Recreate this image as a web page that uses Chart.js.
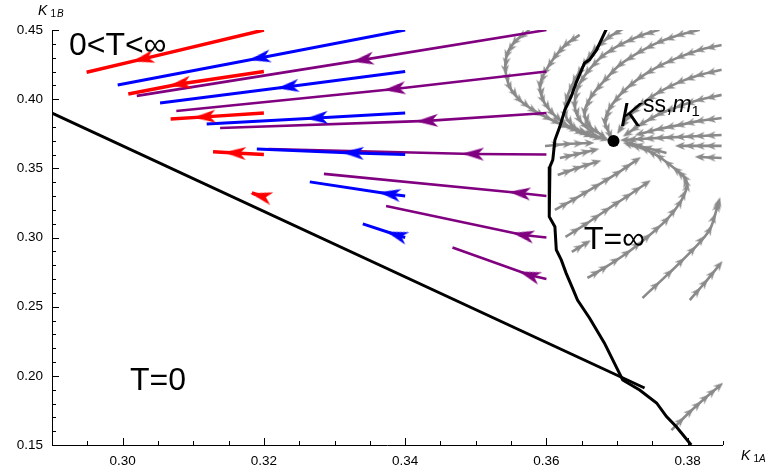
<!DOCTYPE html>
<html><head><meta charset="utf-8">
<script src="https://cdn.jsdelivr.net/npm/chart.js@4.4.1/dist/chart.umd.min.js"></script>
<style>html,body{margin:0;padding:0;background:#fff}canvas{display:block}</style>
</head><body>
<canvas id="c" width="768" height="475"></canvas>
<script>
// ---------- axis ticks ----------
const xTickLabels = [0.30, 0.32, 0.34, 0.36, 0.38];
const xMinorTicks = [0.295, 0.305, 0.31, 0.315, 0.325, 0.33, 0.335, 0.345, 0.35, 0.355, 0.365, 0.37, 0.375, 0.385];
const yTickLabels = [0.15, 0.20, 0.25, 0.30, 0.35, 0.40, 0.45];
const yMinorTicks = [0.16,0.17,0.18,0.19,0.21,0.22,0.23,0.24,0.26,0.27,0.28,0.29,0.31,0.32,0.33,0.34,0.36,0.37,0.38,0.39,0.41,0.42,0.43,0.44];

// ---------- trajectories [start, arrow, end] ----------
const redTraj = [
  [[0.32,0.45],[0.3029,0.4291],[0.2949,0.4195]],
  [[0.32,0.42],[0.3081,0.4110],[0.3008,0.4038]],
  [[0.32,0.39],[0.3116,0.3872],[0.3068,0.3857]],
  [[0.32,0.36],[0.3159,0.3611],[0.3128,0.3619]],
  [[0.32,0.33],[0.3196,0.3300],[0.3183,0.3322]]
];
const blueTraj = [
  [[0.34,0.45],[0.3194,0.4298],[0.2993,0.4103]],
  [[0.34,0.42],[0.3234,0.4089],[0.3053,0.3973]],
  [[0.34,0.39],[0.3275,0.3864],[0.3119,0.3821]],
  [[0.34,0.36],[0.3326,0.3611],[0.3190,0.3640]],
  [[0.34,0.33],[0.3378,0.3315],[0.3265,0.3402]],
  [[0.34,0.30],[0.3388,0.3018],[0.3340,0.3098]]
];
const purpleTraj = [
  [[0.36,0.45],[0.3340,0.4284],[0.3020,0.4024]],
  [[0.36,0.42],[0.3385,0.4074],[0.3076,0.3915]],
  [[0.36,0.39],[0.3431,0.3843],[0.3138,0.3792]],
  [[0.36,0.36],[0.3496,0.3604],[0.3206,0.3640]],
  [[0.36,0.33],[0.3562,0.3322],[0.3285,0.3460]],
  [[0.36,0.30],[0.3567,0.3018],[0.3373,0.3228]],
  [[0.36,0.27],[0.3576,0.2729],[0.3467,0.2927]]
];

// ---------- boundaries ----------
const zeroBoundary = [[0.29,0.39],[0.3739,0.1912]];
const infBoundary = [
  [0.3685,0.4508],[0.3671,0.4356],[0.3661,0.4284],[0.3654,0.4262],[0.3642,0.4118],[0.3635,0.4018],
  [0.3626,0.3922],[0.3619,0.3802],[0.3612,0.3705],[0.3609,0.3561],[0.3605,0.3512],[0.3604,0.3151],
  [0.3612,0.3078],[0.3614,0.2910],[0.3621,0.2838],[0.3628,0.2741],[0.3638,0.2621],[0.3644,0.2548],
  [0.3661,0.2418],[0.3682,0.2238],[0.3708,0.1970],[0.3732,0.1898],[0.3756,0.1804],[0.3770,0.1705],
  [0.3784,0.1632],[0.3805,0.1500]
];
const steadyState = [[0.3695,0.3698]];

// ---------- stream lines ----------
const streams = [
  [[0.3576,0.4501],[0.3555,0.4414],[0.3544,0.4320],[0.3542,0.4212],[0.3548,0.4089],[0.3562,0.3995],[0.3581,0.3922],[0.3602,0.3864],[0.3626,0.3807],[0.3654,0.3756],[0.3683,0.3712]],
  [[0.3647,0.4465],[0.3627,0.4392],[0.3612,0.4306],[0.3598,0.4197],[0.3591,0.4103],[0.3595,0.3995],[0.3608,0.3901],[0.3626,0.3821],[0.3647,0.3763],[0.3673,0.3720]],
  [[0.3711,0.4515],[0.3687,0.4443],[0.3668,0.4356],[0.3654,0.4255],[0.3640,0.4139],[0.3629,0.4009],[0.3627,0.3886],[0.3640,0.3792],[0.3661,0.3741]],
  [[0.3760,0.4501],[0.3732,0.4457],[0.3704,0.4392],[0.3678,0.4306],[0.3658,0.4197],[0.3644,0.4081],[0.3640,0.3958],[0.3647,0.3850],[0.3664,0.3763]],
  [[0.3817,0.4501],[0.3789,0.4465],[0.3760,0.4414],[0.3732,0.4342],[0.3704,0.4248],[0.3683,0.4139],[0.3664,0.4024],[0.3654,0.3908],[0.3661,0.3807],[0.3680,0.3734]],
  [[0.3848,0.4392],[0.3817,0.4356],[0.3789,0.4306],[0.3760,0.4240],[0.3732,0.4154],[0.3708,0.4052],[0.3690,0.3937],[0.3683,0.3836],[0.3690,0.3741]],
  [[0.3848,0.4212],[0.3817,0.4175],[0.3789,0.4125],[0.3760,0.4052],[0.3735,0.3966],[0.3715,0.3864],[0.3704,0.3778]],
  [[0.3848,0.4031],[0.3817,0.3995],[0.3789,0.3951],[0.3760,0.3893],[0.3735,0.3821],[0.3714,0.3749]],
  [[0.3848,0.3864],[0.3817,0.3843],[0.3789,0.3814],[0.3760,0.3785],[0.3732,0.3749]],
  [[0.3848,0.3741],[0.3817,0.3734],[0.3789,0.3727],[0.3760,0.3720],[0.3732,0.3712],[0.3711,0.3705]],
  [[0.3848,0.3662],[0.3817,0.3662],[0.3789,0.3662]],
  [[0.3848,0.3575],[0.3817,0.3582]],
  [[0.3658,0.2708],[0.3682,0.2780],[0.3714,0.2888],[0.3743,0.3004],[0.3770,0.3127],[0.3789,0.3250],[0.3799,0.3366],[0.3796,0.3431],[0.3784,0.3488],[0.3760,0.3582],[0.3739,0.3640],[0.3715,0.3676]],
  [[0.3736,0.2563],[0.3774,0.2744],[0.3807,0.2910],[0.3831,0.3055],[0.3842,0.3221],[0.3844,0.3257]],
  [[0.3803,0.2548],[0.3824,0.2671],[0.3845,0.2802]],
  [[0.3777,0.1608],[0.3803,0.1739],[0.3825,0.1840],[0.3845,0.1927]],
  [[0.3612,0.3199],[0.3640,0.3279],[0.3671,0.3373],[0.3701,0.3467],[0.3728,0.3561]],
  [[0.3627,0.3004],[0.3656,0.3098],[0.3685,0.3199],[0.3715,0.3300],[0.3742,0.3394]],
  [[0.3616,0.3452],[0.3644,0.3503],[0.3671,0.3546]],
  [[0.3619,0.3575],[0.3644,0.3604],[0.3668,0.3633]],
  [[0.3598,0.3662],[0.3630,0.3676],[0.3661,0.3683]],
  [[0.3636,0.2896],[0.3657,0.2961]],
  [[0.3770,0.3611],[0.3743,0.3647],[0.3718,0.3683]]
];

// ---------- styling helpers ----------
const RED = '#ff0000', BLUE = '#0000ff', PURPLE = '#800080', GRAY = '#8a8a8a';
const FONT = '"Liberation Sans", Arial, sans-serif';

function makeArrow(color, L, W, notch) {
  const c = document.createElement('canvas');
  c.width = Math.ceil(L + 4); c.height = Math.ceil(W + 4);
  const g = c.getContext('2d');
  g.translate(c.width / 2, c.height / 2);
  g.beginPath();
  g.moveTo(L / 2, 0);
  g.lineTo(-L / 2, -W / 2);
  g.lineTo(-L / 2 + notch, 0);
  g.lineTo(-L / 2, W / 2);
  g.closePath();
  g.fillStyle = color; g.fill();
  return c;
}
const arrowImgs = {
  [RED]: makeArrow(RED, 22, 13, 6),
  [BLUE]: makeArrow(BLUE, 22, 13, 6),
  [PURPLE]: makeArrow(PURPLE, 22, 13, 6),
  [GRAY]: makeArrow(GRAY, 10, 8, 3)
};

function pixAngle(chart, a, b) {
  const xs = chart.scales.x, ys = chart.scales.y;
  const dx = xs.getPixelForValue(b[0]) - xs.getPixelForValue(a[0]);
  const dy = ys.getPixelForValue(b[1]) - ys.getPixelForValue(a[1]);
  return Math.atan2(dy, dx) * 180 / Math.PI;
}

const datasets = [];
datasets.push({ data: steadyState, showLine: false, pointRadius: 6, pointBackgroundColor: '#000', pointBorderWidth: 0 });
datasets.push({ data: zeroBoundary, showLine: true, borderColor: '#000', borderWidth: 3, pointRadius: 0, tension: 0 });
datasets.push({ data: infBoundary, showLine: true, borderColor: '#000', borderWidth: 3, pointRadius: 0, tension: 0 });

function addTraj(list, color, width) {
  list.forEach(tr => {
    datasets.push({
      data: tr, showLine: true, borderColor: color, borderWidth: width, tension: 0,
      pointRadius: c => (c.dataIndex === 1 ? 10 : 0),
      pointStyle: arrowImgs[color],
      pointRotation: c => (c.type === 'data' ? pixAngle(c.chart, c.dataset.data[0], c.dataset.data[2]) : 0),
      pointBorderWidth: 0
    });
  });
}
addTraj(redTraj, RED, 3.5);
addTraj(blueTraj, BLUE, 3);
addTraj(purpleTraj, PURPLE, 2.6);

streams.forEach(s => {
  datasets.push({
    data: s, showLine: true, borderColor: GRAY, borderWidth: 2.6, tension: 0.35, isStream: true,
    pointRadius: c => (c.dataIndex === 0 ? 0 : 5),
    pointStyle: arrowImgs[GRAY],
    pointRotation: c => {
      if (c.type !== 'data') return 0;
      const d = c.dataset.data, i = c.dataIndex, n = d.length;
      return pixAngle(c.chart, d[Math.max(i - 1, 0)], d[Math.min(i + 1, n - 1)]);
    },
    pointBorderWidth: 0
  });
});

// extra arrowheads half-way along each drawn stream segment (decoration of the line)
const streamArrows = {
  id: 'streamArrows',
  afterDatasetDraw(chart, args) {
    const ds = chart.data.datasets[args.index];
    if (!ds.isStream) return;
    const pts = args.meta.data, a = chart.chartArea, ctx = chart.ctx, img = arrowImgs[GRAY];
    ctx.save();
    ctx.beginPath(); ctx.rect(a.left, a.top, a.right - a.left, a.bottom - a.top); ctx.clip();
    for (let i = 1; i < pts.length; i++) {
      const p = pts[i - 1], q = pts[i];
      const mx = (p.x + q.x) / 2, my = (p.y + q.y) / 2;
      ctx.save(); ctx.translate(mx, my); ctx.rotate(Math.atan2(q.y - p.y, q.x - p.x));
      ctx.drawImage(img, -img.width / 2, -img.height / 2);
      ctx.restore();
    }
    ctx.restore();
  }
};

const decor = {
  id: 'decor',
  afterDraw(chart) {
    const ctx = chart.ctx, xs = chart.scales.x, ys = chart.scales.y, a = chart.chartArea;
    ctx.save();
    ctx.strokeStyle = '#000'; ctx.lineWidth = 1;
    ctx.beginPath();
    ctx.moveTo(a.left, a.bottom + 0.5); ctx.lineTo(a.right, a.bottom + 0.5);
    ctx.moveTo(a.left + 0.5, a.bottom); ctx.lineTo(a.left + 0.5, a.top);
    xTickLabels.forEach(v => { const p = Math.round(xs.getPixelForValue(v)) + 0.5; ctx.moveTo(p, a.bottom); ctx.lineTo(p, a.bottom - 7); });
    xMinorTicks.forEach(v => { const p = Math.round(xs.getPixelForValue(v)) + 0.5; ctx.moveTo(p, a.bottom); ctx.lineTo(p, a.bottom - 4); });
    yTickLabels.forEach(v => { const p = Math.round(ys.getPixelForValue(v)) + 0.5; ctx.moveTo(a.left, p); ctx.lineTo(a.left + 7, p); });
    yMinorTicks.forEach(v => { const p = Math.round(ys.getPixelForValue(v)) + 0.5; ctx.moveTo(a.left, p); ctx.lineTo(a.left + 4, p); });
    ctx.stroke();

    ctx.fillStyle = '#000';
    ctx.textBaseline = 'alphabetic';
    // axis titles
    ctx.font = 'italic 14px ' + FONT; ctx.fillText('K', 38, 15);
    ctx.font = '10px ' + FONT; ctx.fillText('1', 50.5, 17);
    ctx.font = 'italic 10px ' + FONT; ctx.fillText('B', 57, 17);
    ctx.font = 'italic 14px ' + FONT; ctx.fillText('K', 741, 460);
    ctx.font = '10px ' + FONT; ctx.fillText('1', 753.5, 462);
    ctx.font = 'italic 10px ' + FONT; ctx.fillText('A', 759, 462);

    // region labels
    ctx.font = '32px ' + FONT;
    ctx.fillText('0<T<\u221E', 69, 55);
    ctx.fillText('T=0', 130, 390);
    ctx.fillText('T=\u221E', 584, 249);
    // steady state label
    ctx.font = 'italic 33px ' + FONT; ctx.fillText('K', 620, 126);
    let x = 620 + ctx.measureText('K').width + 1;
    ctx.font = '23px ' + FONT; ctx.fillText('ss,', x, 112);
    x += ctx.measureText('ss,').width;
    ctx.font = 'italic 23px ' + FONT; ctx.fillText('m', x, 112);
    x += ctx.measureText('m').width;
    ctx.font = '15px ' + FONT; ctx.fillText('1', x, 116);
    ctx.restore();
  }
};

new Chart(document.getElementById('c'), {
  type: 'scatter',
  data: { datasets },
  options: {
    responsive: false, animation: false, events: [], devicePixelRatio: 1,
    layout: { padding: { left: 0, right: 45, top: 30, bottom: 0 } },
    plugins: { legend: { display: false }, tooltip: { enabled: false } },
    scales: {
      x: {
        type: 'linear', min: 0.29, max: 0.385,
        grid: { display: false, drawTicks: false }, border: { display: false },
        afterBuildTicks: s => { s.ticks = xTickLabels.map(v => ({ value: v })); },
        afterFit: s => { s.height = 30; },
        ticks: { autoSkip: false, maxRotation: 0, padding: 8, color: '#000', font: { family: FONT, size: 13.5 }, callback: v => v.toFixed(2) }
      },
      y: {
        type: 'linear', min: 0.15, max: 0.45,
        grid: { display: false, drawTicks: false }, border: { display: false },
        afterBuildTicks: s => { s.ticks = yTickLabels.map(v => ({ value: v })); },
        afterFit: s => { s.width = 52; },
        ticks: { autoSkip: false, padding: 9, color: '#000', font: { family: FONT, size: 13.5 }, callback: v => v.toFixed(2) }
      }
    }
  },
  plugins: [streamArrows, decor]
});
</script>
</body></html>
